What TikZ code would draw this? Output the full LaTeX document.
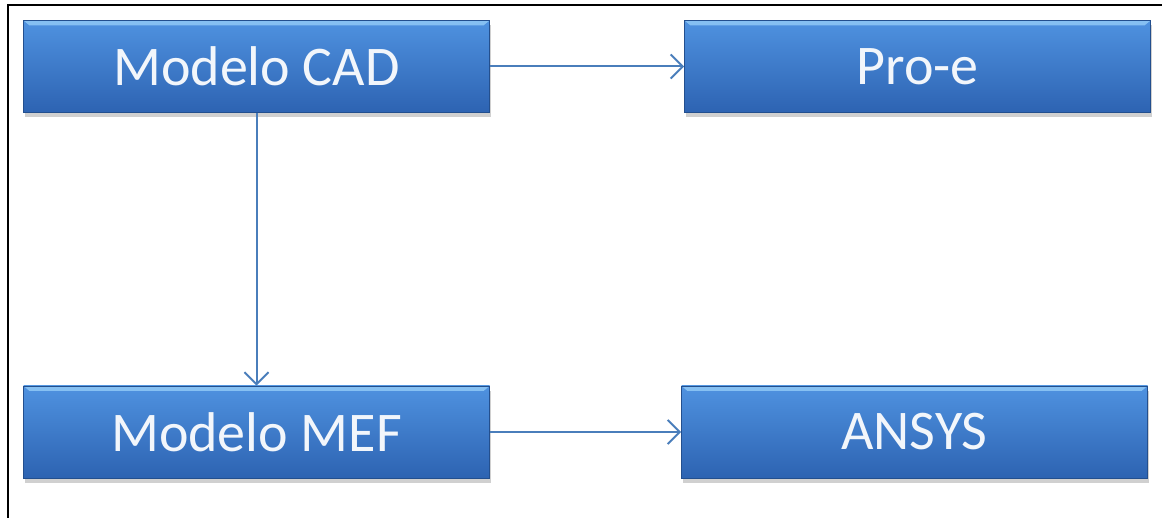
\documentclass[tikz,border=0pt]{standalone}
\usepackage{fontspec}
\setmainfont{Carlito}
\usetikzlibrary{arrows.meta,shadows,positioning}
\definecolor{boxtop}{HTML}{4F92E0}
\definecolor{boxbot}{HTML}{2D63B2}
\definecolor{boxedge}{HTML}{234F8E}
\definecolor{boxlight}{HTML}{86C0F2}
\definecolor{linkblue}{HTML}{4A7EBB}
\definecolor{boxtext}{HTML}{F2F6FB}
\begin{document}
\begin{tikzpicture}[x=1pt,y=1pt,
	block/.style={rectangle,minimum width=466pt,minimum height=92pt,inner sep=0pt,
		top color=boxtop,bottom color=boxbot,draw=boxedge,line width=0.8pt,
		text=boxtext,font=\fontsize{56}{60}\selectfont,
		drop shadow={shadow xshift=1pt,shadow yshift=-5pt,opacity=0.3,fill=black!60},
		path picture={\fill[boxlight] (path picture bounding box.north west) -- (path picture bounding box.north east) -- ([xshift=-6pt,yshift=-5pt]path picture bounding box.north east) -- ([xshift=6pt,yshift=-5pt]path picture bounding box.north west) -- cycle;}},
	link/.style={draw=linkblue,line width=2pt,-{Straight Barb[length=12pt,width=24pt]}}]
	\useasboundingbox (0,0) rectangle (1162,517);
	\clip (0,0) rectangle (1162,517);
	\fill[white] (0,0) rectangle (1162,517);
	% frame
	\draw[line width=2pt] (8,-20) -- (8,512) -- (1200,512);
	% blocks
	\node[block] (cad) at (256.5,450.5) {Modelo CAD};
	\node[block] (proe) at (917.5,450.5) {Pro-e};
	\node[block] (mef) at (256.5,85) {Modelo MEF};
	\node[block] (ansys) at (914.5,85) {ANSYS};
	% links
	\draw[link] (cad) -- (proe);
	\draw[link] (cad) -- (mef);
	\draw[link] (mef) -- (ansys);
\end{tikzpicture}
\end{document}
